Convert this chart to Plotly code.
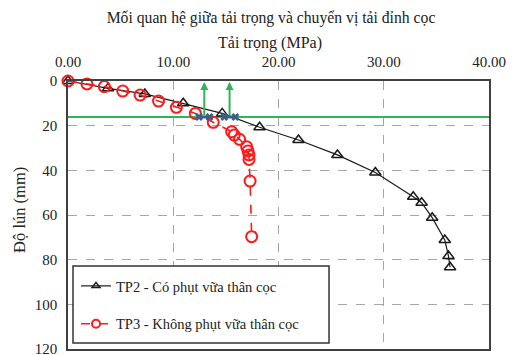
import plotly.graph_objects as go

# TP2 - with grouting
tp2_load = [0.0, 3.8, 7.3, 10.95, 14.65, 18.2, 21.9, 25.6, 29.2, 32.8, 33.6, 34.6, 35.8, 36.15, 36.3]
tp2_settle = [0.0, 3.3, 5.8, 10.0, 14.5, 20.7, 26.4, 33.1, 41.0, 51.8, 54.5, 61.2, 71.2, 78.4, 83.4]

# TP3 - without grouting
tp3_load = [0.0, 1.8, 3.45, 5.2, 6.85, 8.6, 10.3, 12.1, 13.8, 15.55, 15.8, 16.3, 16.97, 17.1, 17.2, 17.2, 17.3, 17.45]
tp3_settle = [0.0, 1.3, 2.5, 4.5, 6.3, 9.0, 11.8, 14.5, 18.5, 22.7, 24.2, 26.1, 29.4, 31.3, 33.1, 35.1, 44.8, 69.7]

# limit settlement line and ultimate loads
limit_settle = 16.1
limit_x = [0, 40]
arrow_loads = [12.95, 15.35]
cross1_x = [12.45, 13.45]
cross2_x = [14.85, 15.9]

x_ticks = [0, 10, 20, 30, 40]
y_ticks = [0, 20, 40, 60, 80, 100, 120]

names = ["TP2 - Có phụt vữa thân cọc", "TP3 - Không phụt vữa thân cọc"]
title_text = "Mối quan hệ giữa tải trọng và chuyển vị tải đỉnh cọc"
x_title = "Tải trọng (MPa)"
y_title = "Độ lún (mm)"

FONT = "Times New Roman, Liberation Serif, serif"
GREEN = "#2fb45a"
BLUE = "#3b5d8c"
TXT = "#222"
BLACK = "#1a1a1a"
RED = "#ff1a1a"

fig = go.Figure()

fig.add_trace(go.Scatter(
    x=limit_x, y=[limit_settle, limit_settle], mode="lines",
    line=dict(color=GREEN, width=2), showlegend=False, hoverinfo="skip"))

fig.add_trace(go.Scatter(
    x=tp2_load, y=tp2_settle, mode="lines+markers", showlegend=False,
    line=dict(color=BLACK, width=1.2),
    marker=dict(symbol="triangle-up-open", size=10, color=BLACK, line=dict(width=1.5)),
    cliponaxis=False))

fig.add_trace(go.Scatter(
    x=tp3_load, y=tp3_settle, mode="lines+markers", showlegend=False,
    line=dict(color=RED, width=1.6, dash="dash"),
    marker=dict(symbol="circle-open", size=11, color=RED, line=dict(width=2)),
    cliponaxis=False))

for cx in (cross1_x, cross2_x):
    fig.add_trace(go.Scatter(
        x=cx, y=[limit_settle, limit_settle], mode="lines+markers",
        line=dict(color=BLUE, width=3),
        marker=dict(symbol="x", size=7, color=BLUE),
        showlegend=False, hoverinfo="skip"))

# legend-only entries with smaller symbols
fig.add_trace(go.Scatter(
    x=[None], y=[None], mode="lines+markers", name=names[0], legendgroup="a",
    line=dict(color=BLACK, width=1.2),
    marker=dict(symbol="triangle-up-open", size=7, color=BLACK, line=dict(width=1.5))))
fig.add_trace(go.Scatter(
    x=[None], y=[None], mode="lines+markers", name=names[1], legendgroup="b",
    line=dict(color=RED, width=1.6, dash="dash"),
    marker=dict(symbol="circle-open", size=8, color=RED, line=dict(width=2))))

for xa in arrow_loads:
    fig.add_annotation(
        x=xa, y=0.4, ax=xa, ay=limit_settle, xref="x", yref="y", axref="x", ayref="y",
        showarrow=True, arrowhead=2, arrowsize=0.8, arrowwidth=2, arrowcolor=GREEN, text="")

# axis titles
fig.add_annotation(text=x_title, xref="paper", yref="paper", x=0.48, y=1.1418,
                   xanchor="center", yanchor="middle", showarrow=False,
                   font=dict(family=FONT, size=16, color=TXT))
fig.add_annotation(text=y_title, xref="paper", yref="paper", x=-0.114, y=0.519,
                   xanchor="center", yanchor="middle", showarrow=False, textangle=-90,
                   font=dict(family=FONT, size=16.5, color=TXT))

# legend frame
fig.add_shape(type="rect", xref="paper", yref="paper", x0=0.0119, x1=0.62, y0=0.0224, y1=0.31,
              line=dict(color="#333", width=1.5), fillcolor="white", layer="above")

fig.update_layout(
    width=513, height=355,
    margin=dict(l=68, r=24, t=81, b=6),
    paper_bgcolor="white", plot_bgcolor="white",
    font=dict(family=FONT, size=15, color=TXT),
    title=dict(text=title_text, x=271 / 513, xanchor="center", y=1 - 18 / 355, yanchor="middle",
               font=dict(family=FONT, size=15.7, color=TXT)),
    legend=dict(x=0.019, y=0.295, xanchor="left", yanchor="top",
                borderwidth=0, bgcolor="rgba(0,0,0,0)",
                tracegroupgap=16, font=dict(family=FONT, size=14.5, color=TXT)),
    xaxis=dict(side="top", range=[0, 40], tickvals=x_ticks, tickformat=".2f",
               showgrid=True, gridcolor="#a6a6a6", griddash="dash", gridwidth=1,
               showline=True, mirror=True, linecolor="#404040", linewidth=1.5,
               zeroline=False, ticks="", automargin=False, ticklabelstandoff=6,
               ticklabeloverflow="allow",
               tickfont=dict(family=FONT, size=15, color=TXT)),
    yaxis=dict(range=[120, 0], tickvals=y_ticks,
               showgrid=True, gridcolor="#a6a6a6", griddash="dash", gridwidth=1,
               showline=True, mirror=True, linecolor="#404040", linewidth=1.5,
               zeroline=False, ticks="", automargin=False, ticklabelstandoff=6,
               ticklabeloverflow="allow",
               tickfont=dict(family=FONT, size=15, color=TXT)),
)

fig.write_html("out.html", config={"displayModeBar": False},
               post_script="document.body.style.margin='0px';")
